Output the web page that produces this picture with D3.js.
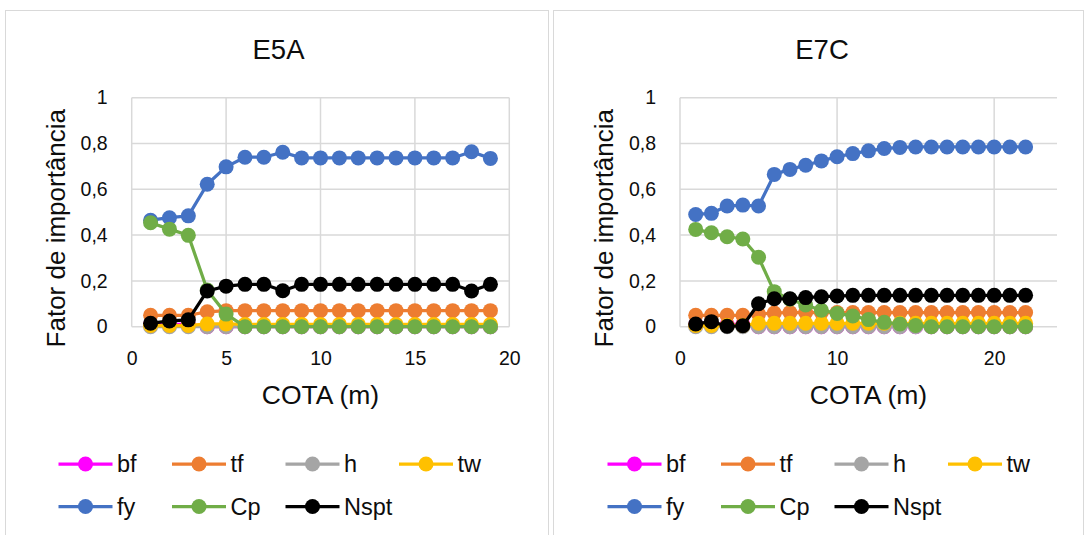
<!DOCTYPE html>
<html><head><meta charset="utf-8">
<script src="https://cdn.jsdelivr.net/npm/d3@7"></script>
<style>body{margin:0;background:#fff}svg{display:block;font-family:"Liberation Sans",Arial,sans-serif}</style>
</head><body><svg id="c" width="1087" height="535"></svg>
<script>
const seriesNames = ["bf","tf","h","tw","fy","Cp","Nspt"];
const seriesColors = ["#FF00FF","#ED7D31","#A5A5A5","#FFC000","#4472C4","#70AD47","#000000"];
const yTicks = [0,0.2,0.4,0.6,0.8,1];
const yTickLabels = ["0","0,2","0,4","0,6","0,8","1"];
const yTitle = "Fator de importância";
const xTitle = "COTA (m)";

// E5A
const e5aTitle = "E5A";
const e5aCota = [1,2,3,4,5,6,7,8,9,10,11,12,13,14,15,16,17,18,19];
const e5aXTicks = [0,5,10,15,20];
const e5a_bf = [0.01,0.01,0.01,0,0,0,0,0,0,0,0,0,0,0,0,0,0,0,0];
const e5a_tf = [0.05,0.05,0.05,0.065,0.07,0.07,0.07,0.07,0.07,0.07,0.07,0.07,0.07,0.07,0.07,0.07,0.07,0.07,0.07];
const e5a_h  = [0,0,0,0,0,0,0,0,0,0,0,0,0,0,0,0,0,0,0];
const e5a_tw = [0.005,0.005,0.005,0.012,0.012,0.01,0.01,0.01,0.01,0.01,0.01,0.01,0.01,0.01,0.01,0.01,0.01,0.01,0.01];
const e5a_fy = [0.465,0.476,0.484,0.622,0.698,0.74,0.74,0.762,0.737,0.737,0.737,0.737,0.737,0.737,0.737,0.737,0.737,0.764,0.735];
const e5a_Cp = [0.454,0.426,0.399,0.16,0.055,0,0,0,0,0,0,0,0,0,0,0,0,0,0];
const e5a_Nspt = [0.015,0.025,0.03,0.156,0.177,0.185,0.185,0.157,0.185,0.185,0.185,0.185,0.185,0.185,0.185,0.185,0.185,0.156,0.185];

// E7C
const e7cTitle = "E7C";
const e7cCota = [1,2,3,4,5,6,7,8,9,10,11,12,13,14,15,16,17,18,19,20,21,22];
const e7cXTicks = [0,10,20];
const e7c_bf = [0.01,0.01,0.01,0.01,0,0,0,0,0,0,0,0,0,0,0,0,0,0,0,0,0,0];
const e7c_tf = [0.05,0.05,0.05,0.05,0.055,0.06,0.062,0.062,0.062,0.062,0.062,0.062,0.062,0.062,0.062,0.062,0.062,0.062,0.062,0.062,0.062,0.062];
const e7c_h  = [0,0,0,0,0,0,0,0,0,0,0,0,0,0,0,0,0,0,0,0,0,0];
const e7c_tw = [0.005,0.005,0.005,0.005,0.015,0.015,0.015,0.015,0.015,0.015,0.015,0.015,0.015,0.015,0.015,0.015,0.015,0.015,0.015,0.015,0.015,0.015];
const e7c_fy = [0.49,0.495,0.527,0.531,0.527,0.665,0.687,0.705,0.724,0.742,0.756,0.768,0.778,0.783,0.785,0.785,0.785,0.785,0.785,0.785,0.785,0.785];
const e7c_Cp = [0.425,0.41,0.393,0.383,0.303,0.153,0.12,0.095,0.072,0.058,0.047,0.031,0.019,0.012,0.005,0,0,0,0,0,0,0];
const e7c_Nspt = [0.012,0.022,0.002,0.004,0.1,0.122,0.122,0.127,0.131,0.134,0.137,0.137,0.137,0.137,0.137,0.137,0.137,0.137,0.137,0.137,0.137,0.137];

const panels = [
  {title:e5aTitle, cota:e5aCota, xTicks:e5aXTicks, xMax:20,
   values:[e5a_bf,e5a_tf,e5a_h,e5a_tw,e5a_fy,e5a_Cp,e5a_Nspt],
   box:[5.5,10.5,543,540], plot:[131.7,509.3,97.7,326.7], legendX:58.5, titleX:278.5},
  {title:e7cTitle, cota:e7cCota, xTicks:e7cXTicks, xMax:24,
   values:[e7c_bf,e7c_tf,e7c_h,e7c_tw,e7c_fy,e7c_Cp,e7c_Nspt],
   box:[553.5,10.5,530,540], plot:[680,1057,97.7,326.7], legendX:607.5, titleX:822}
];

const svg = d3.select("#c");
const grid = "#d9d9d9";
const txt = "#0d0d0d";
const ff = "Liberation Sans, Arial, sans-serif";

panels.forEach(p => {
  const g = svg.append("g");
  g.append("rect").attr("x",p.box[0]).attr("y",p.box[1]).attr("width",p.box[2]).attr("height",p.box[3])
    .attr("fill","#fff").attr("stroke",grid).attr("stroke-width",1);
  const [x0,x1,yTop,yBot] = p.plot;
  const x = d3.scaleLinear().domain([0,p.xMax]).range([x0,x1]);
  const y = d3.scaleLinear().domain([0,1]).range([yBot,yTop]);

  // gridlines
  g.append("g").selectAll("line").data(yTicks).join("line")
    .attr("x1",x0).attr("x2",x1).attr("y1",d=>y(d)).attr("y2",d=>y(d))
    .attr("stroke",grid).attr("stroke-width",1.5);
  g.append("g").selectAll("line").data(p.xTicks).join("line")
    .attr("x1",d=>x(d)).attr("x2",d=>x(d)).attr("y1",yTop).attr("y2",yBot)
    .attr("stroke",grid).attr("stroke-width",1.5);

  // axes labels via d3 axes
  const ya = d3.axisLeft(y).tickValues(yTicks).tickFormat((d,i)=>yTickLabels[i]).tickSize(0).tickPadding(24);
  const yg = g.append("g").attr("transform",`translate(${x0},0)`).call(ya);
  yg.select(".domain").remove();
  yg.selectAll("text").attr("font-size",19.5).attr("fill",txt).attr("font-family",ff);
  const xa = d3.axisBottom(x).tickValues(p.xTicks).tickFormat(d3.format("d")).tickSize(0).tickPadding(24);
  const xg = g.append("g").attr("transform",`translate(0,${yBot})`).call(xa);
  xg.select(".domain").remove();
  xg.selectAll("text").attr("font-size",19.5).attr("fill",txt).attr("font-family",ff);

  // titles
  g.append("text").attr("x",p.titleX).attr("y",58.5)
    .attr("text-anchor","middle").attr("font-size",27.5).attr("fill",txt).text(p.title);
  g.append("text").attr("x",(x0+x1)/2).attr("y",403.5)
    .attr("text-anchor","middle").attr("font-size",26.5).attr("fill",txt).text(xTitle);
  g.append("text").attr("transform",`translate(${x0-67},${(yTop+yBot)/2 + 16}) rotate(-90)`)
    .attr("text-anchor","middle").attr("font-size",26).attr("fill",txt).text(yTitle);

  // series
  const line = d3.line().x((d,i)=>x(p.cota[i])).y(d=>y(d));
  p.values.forEach((vals,si) => {
    const sg = g.append("g");
    sg.append("path").datum(vals).attr("d",line).attr("fill","none")
      .attr("stroke",seriesColors[si]).attr("stroke-width",3.25).attr("stroke-linejoin","round");
    sg.selectAll("circle").data(vals).join("circle")
      .attr("cx",(d,i)=>x(p.cota[i])).attr("cy",d=>y(d)).attr("r",7.5)
      .attr("fill",seriesColors[si]);
  });

  // legend
  const lg = g.append("g");
  seriesNames.forEach((name,si) => {
    const col = si % 4, row = Math.floor(si/4);
    const lx = p.legendX + col*113.5, ly = 464 + row*42.5;
    lg.append("line").attr("x1",lx).attr("x2",lx+54).attr("y1",ly).attr("y2",ly)
      .attr("stroke",seriesColors[si]).attr("stroke-width",3.25);
    lg.append("circle").attr("cx",lx+27).attr("cy",ly).attr("r",7.5).attr("fill",seriesColors[si]);
    lg.append("text").attr("x",lx+58.5).attr("y",ly+8.3).attr("font-size",23.5).attr("fill",txt).text(name);
  });
});
</script></body></html>
